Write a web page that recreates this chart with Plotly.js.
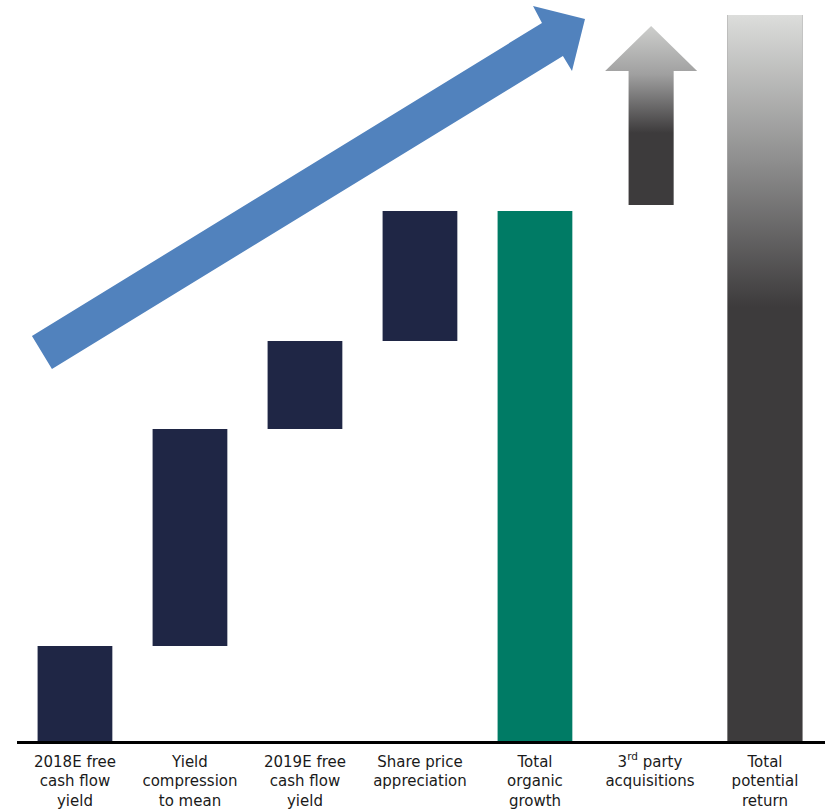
<!DOCTYPE html>
<html><head><meta charset="utf-8">
<script src="https://cdn.plot.ly/plotly-3.0.1.min.js"></script>
<style>html,body{margin:0;padding:0;background:#fff}#chart{width:825px;height:812px}</style>
</head><body><div id="chart"></div>
<script>
// ---- data ----
const categories = [
  "2018E free<br>cash flow<br>yield",
  "Yield<br>compression<br>to mean",
  "2019E free<br>cash flow<br>yield",
  "Share price<br>appreciation",
  "Total<br>organic<br>growth",
  "3<sup>rd</sup> party<br>acquisitions",
  "Total<br>potential<br>return"
];
const stepValues = [1.9, 4.34, 1.76, 2.6];      // organic return components
const organicTotal = [10.6];                      // total organic growth
const acquisitionsRange = [10.72, 14.3];          // 3rd party acquisitions (arrow from..to)
const totalReturn = [14.52];                      // total potential return
// decorative trend arrow outline (data coords)
const trendArrowX = [-0.374, 4.061, 3.983, 4.435, 4.322, 4.243, -0.2, -0.374];
const trendArrowY = [8.1, 14.36, 14.7, 14.44, 13.4, 13.7, 7.44, 8.1];

// ---- derived ----
const xs = categories.map((_, i) => i);
const stepBases = [];
let acc = 0;
stepValues.forEach(v => { stepBases.push(acc); acc += v; });

const barW = 0.65;
const navy = '#1f2645', green = '#007b65', dark = '#3d3b3c';

// acquisitions arrow polygon
const ac = 5.01, sw = 0.196, hw = 0.4, headH = 0.9;
const a0 = acquisitionsRange[0], a1 = acquisitionsRange[1], hb = a1 - headH;
const acqX = [ac - sw, ac - sw, ac - hw, ac, ac + hw, ac + sw, ac + sw, ac - sw];
const acqY = [a0, hb, hb, a1, hb, hb, a0, a0];

// total bar gradient overlay polygon
const tc = 6;
const totX = [tc - barW / 2, tc + barW / 2, tc + barW / 2, tc - barW / 2, tc - barW / 2];
const totY = [0, 0, totalReturn[0], totalReturn[0], 0];

const traces = [
  { type: 'bar', x: xs.slice(0, 4), y: stepValues, base: stepBases, width: barW,
    marker: { color: navy, line: { width: 0 } }, hoverinfo: 'skip' },
  { type: 'bar', x: [4], y: organicTotal, base: [0], width: barW,
    marker: { color: green, line: { width: 0 } }, hoverinfo: 'skip' },
  { type: 'bar', x: [6], y: totalReturn, base: [0], width: barW,
    marker: { color: dark, line: { width: 0 } }, hoverinfo: 'skip' },
  { type: 'scatter', mode: 'lines', x: totX, y: totY, fill: 'toself', line: { width: 0 },
    fillgradient: { type: 'vertical', start: 8.68, stop: totalReturn[0],
      colorscale: [[0, dark], [0.5, '#8e8e8e'], [1, '#dcdddb']] }, hoverinfo: 'skip' },
  { type: 'scatter', mode: 'lines', x: acqX, y: acqY, fill: 'toself', line: { width: 0 },
    fillgradient: { type: 'vertical', start: 12.16, stop: a1,
      colorscale: [[0, dark], [0.55, '#a0a0a0'], [1, '#cdcecc']] }, hoverinfo: 'skip' },
  { type: 'scatter', mode: 'lines', x: trendArrowX, y: trendArrowY, fill: 'toself',
    fillcolor: '#5182bd', line: { width: 0 }, hoverinfo: 'skip' }
];

const layout = {
  width: 825, height: 812,
  margin: { l: 17, r: 0, t: 0, b: 71 },
  paper_bgcolor: '#ffffff', plot_bgcolor: '#ffffff',
  showlegend: false, barmode: 'overlay',
  xaxis: {
    range: [-0.504, 6.522], tickmode: 'array', tickvals: xs, ticktext: categories,
    showline: true, linecolor: '#000000', linewidth: 2.5, showgrid: false, zeroline: false,
    ticks: '', ticklabelstandoff: 5,
    tickfont: { family: 'DejaVu Sans', size: 15, color: '#1a1a1a' },
    fixedrange: true
  },
  yaxis: { range: [0, 14.82], visible: false, fixedrange: true, showgrid: false, zeroline: false }
};

Plotly.newPlot('chart', traces, layout, { displayModeBar: false, staticPlot: true });
</script>
</body></html>
